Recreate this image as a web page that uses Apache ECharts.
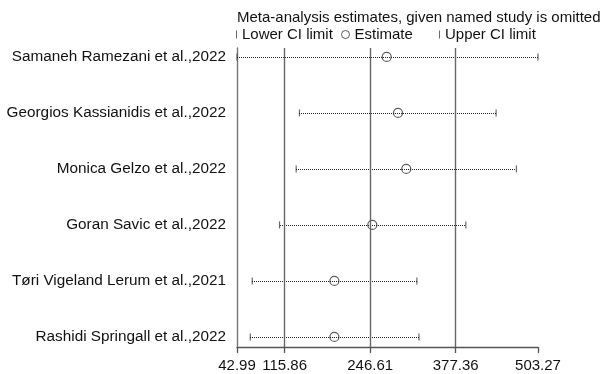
<!DOCTYPE html>
<html>
<head>
<meta charset="utf-8">
<script src="https://cdn.jsdelivr.net/npm/echarts@6/dist/echarts.min.js"></script>
<style>
  html, body { margin: 0; padding: 0; background: #fff; }
  #chart { width: 610px; height: 374px; }
</style>
</head>
<body>
<div id="chart"></div>
<script>
// Influence analysis: pooled estimate recomputed with each study left out
const studies = [
  'Samaneh Ramezani et al.,2022',
  'Georgios Kassianidis et al.,2022',
  'Monica Gelzo et al.,2022',
  'Goran Savic et al.,2022',
  'Tøri Vigeland Lerum et al.,2021',
  'Rashidi Springall et al.,2022'
];
const estimate = [271.9, 289.2, 301.8, 249.9, 191.9, 191.9];
const lowerCI  = [42.99, 138.5, 133.5, 108.0, 66.3, 63.3];
const upperCI  = [503.27, 439.2, 470.3, 392.9, 318.1, 321.2];
const xTicks   = [42.99, 115.86, 246.61, 377.36, 503.27];
const refLines = [115.86, 246.61, 377.36];

const FONT = '"Liberation Sans", Arial, Helvetica, sans-serif';
const n = studies.length;
// first study on top: row position n .. 1
const rowOf = i => n - i;
const rowTicks = studies.map((_, i) => rowOf(i));

const ciData = studies.map((_, i) => [lowerCI[i], upperCI[i], rowOf(i)]);
const lowData = studies.map((_, i) => [lowerCI[i], rowOf(i)]);
const upData = studies.map((_, i) => [upperCI[i], rowOf(i)]);
const estData = studies.map((_, i) => [estimate[i], rowOf(i)]);

const chart = echarts.init(document.getElementById('chart'), null, { renderer: 'canvas' });
chart.setOption({
  animation: false,
  backgroundColor: '#fff',
  textStyle: { fontFamily: FONT },
  title: {
    text: 'Meta-analysis estimates, given named study is omitted',
    left: 237, top: 10, padding: 0,
    textStyle: { fontSize: 15, fontWeight: 'normal', color: '#111', fontFamily: FONT }
  },
  legend: [
    { data: ['Lower CI limit'], left: 236, top: 27, padding: 0, icon: 'rect', itemWidth: 1, itemHeight: 8,
      textStyle: { fontSize: 15, color: '#111', fontFamily: FONT } },
    { data: ['Estimate'], left: 341, top: 27, padding: 0, icon: 'circle', itemWidth: 8, itemHeight: 8,
      itemStyle: { color: 'transparent', borderColor: '#333', borderWidth: 1 },
      textStyle: { fontSize: 15, color: '#111', fontFamily: FONT } },
    { data: ['Upper CI limit'], left: 439, top: 27, padding: 0, icon: 'rect', itemWidth: 1, itemHeight: 8,
      textStyle: { fontSize: 15, color: '#111', fontFamily: FONT } }
  ],
  grid: { left: 237, right: 72, top: 48, bottom: 27, containLabel: false },
  xAxis: {
    type: 'value', min: xTicks[0], max: xTicks[xTicks.length - 1],
    axisLine: { show: true, lineStyle: { color: '#555', width: 1.3 } },
    axisTick: { show: true, customValues: xTicks, length: 6, lineStyle: { color: '#555', width: 1.3 } },
    axisLabel: { customValues: xTicks, fontSize: 15, color: '#111', margin: 11, fontFamily: FONT,
      formatter: v => v.toFixed(2) },
    splitLine: { show: false }
  },
  yAxis: {
    type: 'value', min: 0.82, max: n + 0.16,
    axisLine: { show: true, lineStyle: { color: '#777', width: 1.4 } },
    axisTick: { show: false },
    axisLabel: { customValues: rowTicks, fontSize: 15.3, color: '#111', margin: 11, fontFamily: FONT,
      formatter: v => studies[n - Math.round(v)] || '' },
    splitLine: { show: false }
  },
  series: [
    {
      name: 'Lower CI limit', type: 'scatter', data: lowData,
      symbol: 'rect', symbolSize: [1.2, 7], z: 3,
      itemStyle: { color: '#444' }
    },
    {
      name: 'Upper CI limit', type: 'scatter', data: upData,
      symbol: 'rect', symbolSize: [1.2, 7], z: 3,
      itemStyle: { color: '#444' }
    },
    {
      name: 'Estimate', type: 'scatter', data: estData,
      symbol: 'circle', symbolSize: 9, z: 3,
      itemStyle: { color: 'transparent', borderColor: '#333', borderWidth: 1.2 }
    },
    {
      name: 'CI', type: 'custom', data: ciData, z: 4,
      encode: { x: [0, 1], y: 2 },
      renderItem: (params, api) => {
        const a = api.coord([api.value(0), api.value(2)]);
        const b = api.coord([api.value(1), api.value(2)]);
        const y = Math.round(a[1]) + 0.5;
        return {
          type: 'line',
          shape: { x1: Math.round(a[0]), y1: y, x2: Math.round(b[0]), y2: y },
          style: { stroke: '#222', lineWidth: 1, lineDash: [1, 1] }
        };
      },
      markLine: {
        silent: true, symbol: 'none', label: { show: false },
        lineStyle: { color: '#666', width: 1.4, type: 'solid' },
        data: refLines.map(v => ({ xAxis: v }))
      }
    }
  ]
});
</script>
</body>
</html>
